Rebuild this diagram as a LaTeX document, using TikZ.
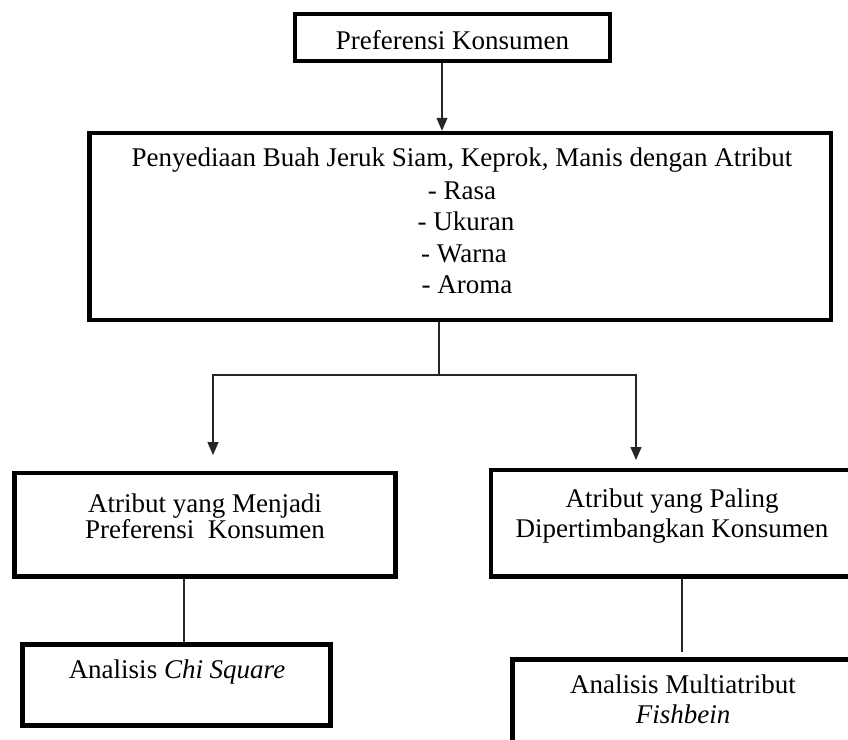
\documentclass[tikz,border=0pt]{standalone}
\usepackage{fontspec}
\setmainfont{Liberation Serif}
\usetikzlibrary{arrows.meta}
\begin{document}
\begin{tikzpicture}[x=1pt,y=-1pt,
  boxstyle/.style={draw=black, line width=4.5pt, rectangle, inner sep=0pt},
  lbl/.style={font=\fontsize{27}{31}\selectfont, anchor=base, inner sep=0pt},
  conn/.style={draw=black!85, line width=1.3pt},
  arr/.style={conn, -{Triangle[length=13pt,width=11pt]}}]
\useasboundingbox (0,0) rectangle (848,739);
% boxes
\node[boxstyle, minimum width=315pt, minimum height=47pt] (top) at (452.5,37.5) {};
\node[boxstyle, minimum width=741.5pt, minimum height=187pt] (big) at (460.25,226.5) {};
\node[boxstyle, minimum width=381pt, minimum height=103.5pt] (lm) at (205,524.75) {};
\node[boxstyle, minimum width=362pt, minimum height=106.5pt] (rm) at (672,523.25) {};
\node[boxstyle, minimum width=308pt, minimum height=81pt] (lb) at (176.5,685) {};
\node[boxstyle, minimum width=340.5pt, minimum height=110.5pt] (rb) at (682.75,714.75) {};
% texts
\node[lbl] (t1) at (452.5,49) {Preferensi Konsumen};
\node[lbl] (t2) at (462,166) {Penyediaan Buah Jeruk Siam, Keprok, Manis dengan Atribut};
\node[lbl] (t3) at (462,199) {- Rasa};
\node[lbl] (t4) at (466,230) {- Ukuran};
\node[lbl] (t5) at (464,262) {- Warna};
\node[lbl] (t6) at (467,293) {- Aroma};
\node[lbl] (t7) at (205,512) {Atribut yang Menjadi};
\node[lbl] (t8) at (205,538) {Preferensi\ \ Konsumen};
\node[lbl] (t9) at (672,507) {Atribut yang Paling};
\node[lbl] (t10) at (672,537) {Dipertimbangkan Konsumen};
\node[lbl] (t11) at (177,678) {Analisis \textit{Chi Square}};
\node[lbl] (t12) at (683,693) {Analisis Multiatribut};
\node[lbl] (t13) at (683,723) {\textit{Fishbein}};
% connectors
\coordinate (xa) at (442,0);
\draw[arr] (top.south -| xa) -- (big.north -| xa);
\coordinate (j) at (439,375);
\coordinate (aL) at (213,455);
\coordinate (aR) at (636,460);
\draw[conn] (big.south -| j) -- (j);
\draw[arr] (j) -| (aL);
\draw[arr] (j) -| (aR);
\coordinate (xl) at (184,0);
\draw[conn] (lm.south -| xl) -- (lb.north -| xl);
\coordinate (xr) at (682,0);
\coordinate (er) at (682,652);
\draw[conn] (rm.south -| xr) -- (er);
\end{tikzpicture}
\end{document}
